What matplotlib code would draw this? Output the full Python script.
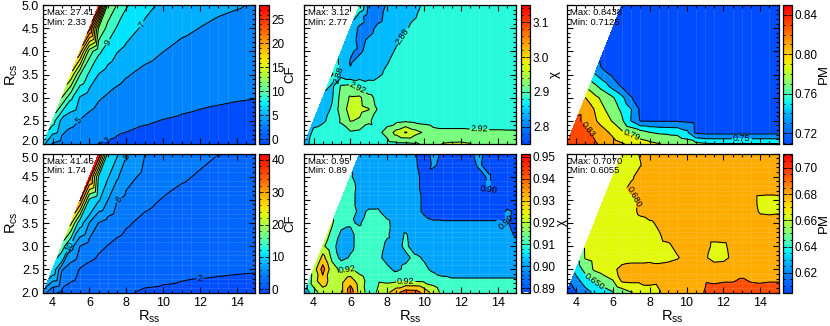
import numpy as np
import matplotlib
matplotlib.use('Agg')
import matplotlib.pyplot as plt
import matplotlib.tri as mtri
from matplotlib.colors import LinearSegmentedColormap, Normalize
from matplotlib.ticker import MultipleLocator, FormatStrFormatter
from matplotlib.cm import ScalarMappable
from matplotlib.transforms import ScaledTranslation

plt.rcParams['font.family'] = ['Liberation Sans', 'DejaVu Sans']
plt.rcParams['mathtext.fontset'] = 'custom'
plt.rcParams['mathtext.rm'] = 'Liberation Sans'
plt.rcParams['mathtext.it'] = 'Liberation Sans:italic'

N = np.nan

# ---------------- data ----------------
rss_coarse = [3.5, 4.0, 4.5, 5.0, 5.5, 6.0, 6.5, 7.0, 7.5, 8.0, 9.0, 10.0, 11.0, 12.0, 13.0, 14.0, 15.0]
rcs_coarse = [5.0, 4.5, 4.0, 3.5, 3.0, 2.5, 2.0]

cf_top = [
    [N, N, N, N, N, N, 27.41, 12.6, 10.9, 9.2, 7.6, 6.6, 6.0, 5.55, 5.25, 5.1, 4.9],
    [N, N, N, N, N, 24.0, 12.8, 10.4, 8.8, 7.9, 6.6, 5.8, 5.3, 4.98, 4.75, 4.6, 4.5],
    [N, N, N, N, 20.0, 12.0, 9.4, 8.1, 7.1, 6.5, 5.6, 5.02, 4.6, 4.35, 4.15, 4.0, 3.9],
    [N, N, N, 16.5, 11.0, 8.6, 6.95, 6.2, 5.6, 5.15, 4.55, 4.15, 3.9, 3.7, 3.55, 3.45, 3.38],
    [N, N, 13.0, 9.4, 6.8, 5.9, 5.2, 4.75, 4.4, 4.1, 3.7, 3.45, 3.3, 3.2, 3.12, 3.06, 3.02],
    [N, 10.0, 6.4, 5.5, 4.9, 4.4, 4.0, 3.7, 3.45, 3.3, 3.1, 2.97, 2.88, 2.8, 2.75, 2.7, 2.66],
    [7.5, 4.8, 4.2, 3.85, 3.55, 3.25, 2.98, 2.85, 2.75, 2.68, 2.58, 2.5, 2.45, 2.41, 2.38, 2.35, 2.33],
]

cf_bottom = [
    [N, N, N, N, N, N, 41.46, 14.0, 10.3, 8.2, 6.05, 5.2, 4.7, 4.35, 4.02, 3.8, 3.6],
    [N, N, N, N, N, 38.5, 14.5, 10.2, 8.3, 6.7, 5.5, 4.75, 4.2, 3.85, 3.6, 3.45, 3.3],
    [N, N, N, N, 35.5, 14.0, 10.3, 8.05, 6.1, 5.5, 4.45, 3.9, 3.55, 3.3, 3.12, 2.98, 2.9],
    [N, N, N, 26.0, 11.0, 7.9, 5.95, 5.2, 4.7, 4.2, 3.6, 3.2, 2.95, 2.75, 2.62, 2.52, 2.45],
    [N, N, 18.0, 8.8, 5.95, 5.05, 4.4, 3.95, 3.6, 3.35, 2.95, 2.7, 2.5, 2.38, 2.3, 2.24, 2.2],
    [N, 12.0, 6.2, 4.8, 3.9, 3.5, 3.2, 2.95, 2.75, 2.62, 2.42, 2.3, 2.2, 2.14, 2.1, 2.07, 2.05],
    [7.0, 4.3, 3.7, 3.35, 3.05, 2.8, 2.6, 2.42, 2.28, 2.08, 1.9, 1.85, 1.81, 1.79, 1.77, 1.75, 1.74],
]

rss_fine = [3.5, 4.0, 4.5, 5.0, 5.5, 6.0, 6.5, 7.0, 7.5, 8.0, 8.5, 9.0, 9.5, 10.0,
            10.5, 11.0, 11.5, 12.0, 12.5, 13.0, 13.5, 14.0, 14.5, 15.0]
rcs_fine = [5.0, 4.75, 4.5, 4.25, 4.0, 3.75, 3.5, 3.25, 3.0, 2.75, 2.5, 2.25, 2.0]

chi_top = [
    [N]*6 + [2.925, 2.83, 2.82, 2.845, 2.86, 2.865, 2.87, 2.885, 2.895, 2.90] + [2.90]*8,
    [N]*6 + [2.855, 2.82, 2.825, 2.855, 2.865, 2.87, 2.878, 2.89, 2.897] + [2.90]*9,
    [N]*5 + [2.855, 2.835, 2.825, 2.85, 2.86, 2.868, 2.877, 2.888, 2.895] + [2.90]*10,
    [N]*5 + [2.855, 2.83, 2.845, 2.86, 2.868, 2.876, 2.886, 2.895] + [2.90]*11,
    [N]*4 + [2.86, 2.843, 2.835, 2.85, 2.862, 2.872, 2.883, 2.893] + [2.90]*12,
    [N]*4 + [2.862, 2.838, 2.852, 2.862, 2.87, 2.879, 2.888, 2.895] + [2.90]*12,
    [N]*3 + [2.925, 2.865, 2.845, 2.858, 2.866, 2.875, 2.886, 2.893] + [2.90]*13,
    [N]*3 + [2.87, 2.925, 2.93, 2.91, 2.895, 2.893] + [2.90]*15,
    [N]*2 + [2.862, 2.875, 2.935, 2.965, 2.968, 2.93, 2.91] + [2.90]*15,
    [N]*2 + [2.86, 2.885, 2.94, 2.975, 2.972, 2.962, 2.915] + [2.90]*15,
    [N]*1 + [2.865, 2.875, 2.89, 2.925, 2.962, 2.955, 2.925, 2.905, 2.905, 2.91, 2.915, 2.91, 2.905] + [2.90]*10,
    [N]*1 + [2.89, 2.895, 2.895, 2.90, 2.915, 2.91, 2.905, 2.91, 2.935, 2.975, 3.004, 2.975, 2.955,
             2.935, 2.93, 2.93, 2.93, 2.928, 2.928, 2.926, 2.926, 2.925, 2.925],
    [2.865, 2.895, 2.90, 2.90, 2.902, 2.905, 2.902, 2.90, 2.90, 2.905, 2.91, 2.91, 2.915, 2.925,
     2.935, 2.962, 2.965, 2.966, 2.962, 2.945, 2.94, 2.935, 2.935, 2.935],
]

pm_top = [
    [N]*6 + [0.714]*17 + [0.7125],
    [N]*6 + [0.714]*18,
    [N]*5 + [0.714]*19,
    [N]*5 + [0.714]*19,
    [N]*4 + [0.714]*20,
    [N]*4 + [0.720] + [0.714]*19,
    [N]*3 + [0.752, 0.737, 0.726, 0.716] + [0.714]*17,
    [N]*3 + [0.775, 0.760, 0.742, 0.727, 0.716] + [0.714]*16,
    [N]*2 + [0.8105, 0.796, 0.784, 0.772, 0.755, 0.7315, 0.716] + [0.714]*15,
    [N]*2 + [0.825, 0.8095, 0.792, 0.779, 0.766, 0.7505, 0.726] + [0.714]*15,
    [N]*1 + [0.836, 0.825, 0.813, 0.801, 0.788, 0.773, 0.749, 0.7285, 0.7285, 0.7285, 0.7285,
             0.7285, 0.727, 0.7245] + [0.7235]*9,
    [N]*1 + [0.842, 0.836, 0.826, 0.816, 0.805, 0.793, 0.786, 0.778, 0.7705, 0.767, 0.766,
             0.765, 0.755, 0.726] + [0.7235]*9,
    [0.8438, 0.843, 0.840, 0.833, 0.825, 0.818, 0.812, 0.805, 0.799, 0.795, 0.791, 0.787,
     0.784, 0.781, 0.777, 0.773] + [0.772]*8,
]

chi_bottom = [
    [N]*6 + [0.906, 0.905, 0.905, 0.905, 0.904, 0.903, 0.9005, 0.897, 0.902, 0.899, 0.896, 0.896,
             0.899, 0.902, 0.897, 0.896, 0.896, 0.896],
    [N]*6 + [0.907, 0.905, 0.905, 0.905, 0.904, 0.903, 0.901, 0.897, 0.901, 0.898, 0.896, 0.896,
             0.898, 0.901, 0.897, 0.896, 0.896, 0.896],
    [N]*5 + [0.911, 0.906, 0.905, 0.905, 0.905, 0.904, 0.903, 0.902, 0.898, 0.897, 0.896, 0.896,
             0.896, 0.896, 0.898, 0.901, 0.896, 0.896, 0.896],
    [N]*5 + [0.914, 0.907, 0.905, 0.905, 0.905, 0.904, 0.903, 0.902, 0.898, 0.896, 0.896, 0.896,
             0.896, 0.896, 0.897, 0.9005, 0.896, 0.896, 0.896],
    [N]*4 + [0.915, 0.914, 0.906, 0.906, 0.907, 0.905, 0.904, 0.903, 0.902, 0.899] + [0.896]*10,
    [N]*4 + [0.915, 0.914, 0.908, 0.911, 0.911, 0.906, 0.904, 0.903, 0.902, 0.899, 0.897, 0.896,
             0.896, 0.896, 0.896, 0.896, 0.896, 0.896, 0.901, 0.899],
    [N]*3 + [0.921, 0.913, 0.911, 0.909, 0.915, 0.914, 0.912, 0.905, 0.904, 0.904, 0.902, 0.901,
             0.901, 0.901, 0.901, 0.901, 0.901, 0.901, 0.901, 0.9005, 0.898],
    [N]*3 + [0.918, 0.908, 0.908, 0.913, 0.915, 0.915, 0.911, 0.906, 0.911, 0.905, 0.903]
          + [0.902]*9 + [0.899],
    [N]*2 + [0.922, 0.913, 0.906, 0.908, 0.913, 0.915, 0.914, 0.908, 0.907, 0.912, 0.905, 0.904]
          + [0.903]*10,
    [N]*2 + [0.934, 0.918, 0.907, 0.911, 0.914, 0.913, 0.912, 0.907, 0.907, 0.908, 0.912, 0.909,
             0.905] + [0.904]*9,
    [N]*1 + [0.924, 0.944, 0.924, 0.918, 0.921, 0.917, 0.914, 0.913, 0.912, 0.908, 0.912, 0.914,
             0.912, 0.908] + [0.907]*9,
    [N]*1 + [0.926, 0.936, 0.925, 0.927, 0.936, 0.924, 0.917, 0.919, 0.918, 0.919, 0.919, 0.919,
             0.918, 0.916, 0.912] + [0.911]*8,
    [0.903, 0.915, 0.925, 0.921, 0.927, 0.946, 0.926, 0.916, 0.921, 0.928, 0.937, 0.946, 0.945,
     0.937, 0.926, 0.917] + [0.914]*8,
]

pm_bottom = [
    [N]*6 + [0.672, 0.674, 0.681, 0.686] + [0.687]*14,
    [N]*6 + [0.673, 0.675, 0.6795, 0.686] + [0.687]*14,
    [N]*5 + [0.672, 0.675, 0.678, 0.685] + [0.687]*15,
    [N]*5 + [0.673, 0.677, 0.683] + [0.687]*16,
    [N]*4 + [0.672, 0.673, 0.675, 0.677, 0.682] + [0.687]*12 + [0.676, 0.675, 0.676],
    [N]*4 + [0.672, 0.673, 0.674, 0.677, 0.682] + [0.687]*12 + [0.678, 0.677, 0.678],
    [N]*3 + [0.672, 0.673, 0.673, 0.674, 0.675, 0.677, 0.678, 0.682] + [0.687]*13,
    [N]*3 + [0.672, 0.672, 0.673, 0.674, 0.675, 0.676, 0.677, 0.679, 0.684] + [0.687]*12,
    [N]*2 + [0.667, 0.671, 0.672, 0.673, 0.674, 0.675, 0.676, 0.676, 0.677, 0.678, 0.683, 0.687,
             0.687, 0.686, 0.676, 0.677, 0.685] + [0.687]*5,
    [N]*2 + [0.666, 0.669, 0.671, 0.673, 0.674, 0.675, 0.675, 0.676, 0.676, 0.677, 0.679, 0.684,
             0.686, 0.682, 0.675, 0.676, 0.683] + [0.687]*5,
    [N]*1 + [0.640, 0.655, 0.667, 0.672, 0.677, 0.684, 0.686, 0.686, 0.686, 0.684, 0.685, 0.687]
          + [0.688]*11,
    [N]*1 + [0.630, 0.641, 0.651, 0.658, 0.664, 0.682, 0.683, 0.683, 0.683, 0.682, 0.686, 0.688,
             0.690, 0.692, 0.694, 0.693, 0.694, 0.694, 0.697, 0.694, 0.693, 0.694, 0.694],
    [0.6055, 0.619, 0.630, 0.637, 0.643, 0.649, 0.656, 0.664, 0.670, 0.675, 0.679, 0.684, 0.688,
     0.690, 0.692, 0.6955, 0.701, 0.702, 0.703, 0.704, 0.703, 0.703, 0.704, 0.707],
]

stats = ['Max: 27.41\nMin: 2.33', 'Max: 3.12\nMin: 2.77', 'Max: 0.8438\nMin: 0.7125',
         'Max: 41.46\nMin: 1.74', 'Max: 0.95\nMin: 0.89', 'Max: 0.7070\nMin: 0.6055']
cbar_names = ['CF', 'χ', 'PM', 'CF', 'χ', 'PM']

# ---------------- style ----------------
cm_pos = [0.00, 0.12, 0.22, 0.29, 0.34, 0.45, 0.55, 0.62, 0.72, 0.85, 1.00]
cm_rgb = [(0.00, 0.30, 1.00), (0.00, 0.48, 1.00), (0.00, 0.72, 1.00), (0.00, 0.95, 1.00),
          (0.22, 1.00, 0.80), (0.55, 1.00, 0.40), (0.85, 1.00, 0.05), (1.00, 0.88, 0.00),
          (1.00, 0.65, 0.00), (1.00, 0.30, 0.00), (1.00, 0.00, 0.00)]
cmap = LinearSegmentedColormap.from_list('idl', list(zip(cm_pos, cm_rgb)))

W, H = 830, 326
fig = plt.figure(figsize=(W / 100, H / 100), dpi=100)

ax_left = [43.3, 304.3, 566.7]
ax_w = 212.0
cb_left = [259.0, 520.7, 782.7]
cb_w = 9.5
cb_label_x = [[290.0, 555.0, 823.5], [290.0, 562.0, 823.5]]
row_px = [(5.0, 144.0), (153.5, 292.5)]

panels = [
    dict(xs=rss_coarse, ys=rcs_coarse, z=cf_top, lev=list(range(3, 26, 2)), vmin=-1, vmax=28,
         lab=[3, 5, 7, 9], fmt='%d', cticks=[0, 5, 10, 15, 20, 25], cminor=1, cfmt='%d', top=False),
    dict(xs=rss_fine, ys=rcs_fine, z=chi_top, lev=[2.80, 2.84, 2.88, 2.92, 2.96, 3.00],
         vmin=2.75, vmax=3.15, lab=[2.88, 2.92], fmt='%.2f', cticks=[2.8, 2.9, 3.0, 3.1],
         cminor=0.02, cfmt='%.1f', top=False),
    dict(xs=rss_fine, ys=rcs_fine, z=pm_top, lev=[0.73, 0.75, 0.77, 0.79, 0.81, 0.83],
         vmin=0.709, vmax=0.850, lab=[0.75, 0.79, 0.83], fmt='%.2f',
         cticks=[0.72, 0.76, 0.80, 0.84], cminor=0.01, cfmt='%.2f', top=False),
    dict(xs=rss_coarse, ys=rcs_coarse, z=cf_bottom, lev=[2, 4, 6, 8, 10, 15, 20, 25, 30, 35],
         vmin=-1, vmax=42, lab=[2, 4, 6, 8, 10], fmt='%d', cticks=[0, 10, 20, 30, 40],
         cminor=2, cfmt='%d', top=True),
    dict(xs=rss_fine, ys=rcs_fine, z=chi_bottom, lev=[0.90, 0.91, 0.92, 0.93, 0.94],
         vmin=0.888, vmax=0.9515, lab=[0.90, 0.92], fmt='%.2f',
         cticks=[0.89, 0.90, 0.91, 0.92, 0.93, 0.94, 0.95], cminor=0.002, cfmt='%.2f', top=False),
    dict(xs=rss_fine, ys=rcs_fine, z=pm_bottom, lev=[0.620, 0.635, 0.650, 0.665, 0.680, 0.695],
         vmin=0.605, vmax=0.711, lab=[0.650, 0.680], fmt='%.3f',
         cticks=[0.62, 0.64, 0.66, 0.68, 0.70], cminor=0.005, cfmt='%.2f', top=False),
]

for i, p in enumerate(panels):
    r, c = divmod(i, 3)
    top_px, bot_px = row_px[r]
    ax = fig.add_axes([ax_left[c] / W, (H - bot_px) / H, ax_w / W, (bot_px - top_px) / H])
    cax = fig.add_axes([cb_left[c] / W, (H - bot_px) / H, cb_w / W, (bot_px - top_px) / H])

    X, Y = np.meshgrid(p['xs'], p['ys'])
    Z = np.array(p['z'], dtype=float)
    ok = np.isfinite(Z)
    tri = mtri.Triangulation(X[ok], Y[ok])
    zz = Z[ok]
    norm = Normalize(p['vmin'], p['vmax'])
    fill = [p['vmin']] + list(p['lev']) + [p['vmax']]
    cols = [cmap(norm(v)) for v in fill[:-1]]
    if p['top']:
        cols[-1] = cmap(0.98)
    ax.tricontourf(tri, zz, levels=fill, colors=cols)
    cs = ax.tricontour(tri, zz, levels=p['lev'], colors='k', linewidths=0.75)
    labs = [l for l in cs.levels if any(abs(l - q) < 1e-9 for q in p['lab'])]
    try:
        ax.clabel(cs, labs, fmt=p['fmt'], fontsize=6.5, inline=True, inline_spacing=1)
    except Exception:
        pass

    # faint rendering grid seen in the reference
    ax.grid(True, which='minor', axis='x' if r == 0 else 'both', color='white',
            alpha=0.12, linewidth=0.6)

    ax.set_xlim(3.5, 15.0)
    ax.set_ylim(2.0, 5.0)
    ax.xaxis.set_major_locator(MultipleLocator(2))
    ax.xaxis.set_minor_locator(MultipleLocator(0.5))
    ax.yaxis.set_major_locator(MultipleLocator(0.5))
    ax.yaxis.set_minor_locator(MultipleLocator(0.1))
    ax.yaxis.set_major_formatter(FormatStrFormatter('%.1f'))
    ax.tick_params(which='both', direction='in', top=True, right=True, labelsize=9,
                   width=0.8, pad=3)
    ax.tick_params(which='major', length=4)
    ax.tick_params(which='minor', length=2)
    for s in ax.spines.values():
        s.set_linewidth(0.9)
    if c != 0:
        ax.tick_params(labelleft=False)
    else:
        ax.set_ylabel(r'R$_{\rm cs}$', fontsize=10.5, labelpad=1)
        # nudge the end labels apart where the two rows meet
        try:
            ticks = ax.yaxis.get_major_ticks()
            locs = ax.yaxis.get_majorticklocs()
            shift = 2.5 if r == 0 else -3.0
            for t, v in zip(ticks, locs):
                if (r == 0 and abs(v - 2.0) < 1e-6) or (r == 1 and abs(v - 5.0) < 1e-6):
                    t.label1.set_transform(t.label1.get_transform() +
                                           ScaledTranslation(0, shift / 72, fig.dpi_scale_trans))
        except Exception:
            pass
    if r == 0:
        ax.tick_params(labelbottom=False)
    else:
        ax.set_xlabel(r'R$_{\rm ss}$', fontsize=10.5, labelpad=0)

    ax.text(0.017, 0.975, stats[i], transform=ax.transAxes, ha='left', va='top',
            fontsize=6.8, linespacing=1.05)

    sm = ScalarMappable(norm=norm, cmap=cmap)
    cb = fig.colorbar(sm, cax=cax)
    cb.set_ticks(p['cticks'])
    cb.ax.yaxis.set_major_formatter(FormatStrFormatter(p['cfmt']))
    cb.ax.yaxis.set_minor_locator(MultipleLocator(p['cminor']))
    cb.ax.tick_params(which='both', direction='in', left=True, right=True, labelsize=8.5,
                      width=0.6, pad=2)
    cb.ax.tick_params(which='major', length=3)
    cb.ax.tick_params(which='minor', length=1.5)
    cb.outline.set_linewidth(0.9)
    fig.text(cb_label_x[r][c] / W, 1 - (top_px + bot_px) / 2 / H, cbar_names[i],
             rotation=90, ha='center', va='center', fontsize=9.5)

fig.savefig('out.png', dpi=100)
